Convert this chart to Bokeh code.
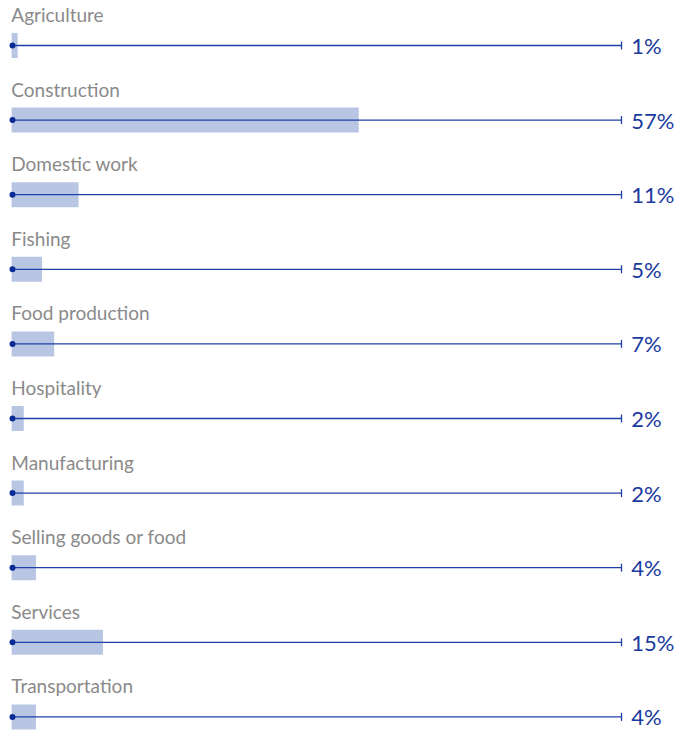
from bokeh.plotting import figure
from bokeh.models import Range1d, ColumnDataSource
from bokeh.core.properties import value
from bokeh.embed import file_html
from bokeh.resources import INLINE

categories = ["Agriculture", "Construction", "Domestic work", "Fishing", "Food production",
              "Hospitality", "Manufacturing", "Selling goods or food", "Services", "Transportation"]
values = [1, 57, 11, 5, 7, 2, 2, 4, 15, 4]
labels = [f"{v}%" for v in values]

W, H = 677, 736
PX = 6.09  # pixels per percent
x0 = 12    # pixel of 0%
ROW = 74.6
y0 = 45

rows = list(range(len(categories)))
src = ColumnDataSource(dict(
    cat=categories, val=values, lab=labels, row=rows,
    zero=[0] * len(rows), full=[100] * len(rows),
    right=[v - 0.15 for v in values],
    lab_y=[r - 31 / ROW for r in rows],
    tick_lo=[r - 4 / ROW for r in rows],
    tick_hi=[r + 4 / ROW for r in rows],
))

p = figure(width=W, height=H, output_backend="svg", toolbar_location=None,
           x_range=Range1d(-x0 / PX, (W - x0) / PX),
           y_range=Range1d((H - y0) / ROW, -y0 / ROW),
           min_border=0, outline_line_color=None)
p.axis.visible = False
p.grid.visible = False
p.background_fill_color = "white"

p.hbar(y="row", left=-0.15, right="right", height=25 / ROW, source=src,
       fill_color="#b8c6e4", line_color=None)
p.segment(x0="zero", y0="row", x1="full", y1="row", source=src,
          line_color="#1f40a8", line_width=1.3)
p.segment(x0="full", y0="tick_lo", x1="full", y1="tick_hi",
          source=src, line_color="#1f40a8", line_width=1.3)
p.scatter(x="zero", y="row", source=src, size=6, fill_color="#0a2a94", line_color=None)

p.text(x=-0.2, y="lab_y", text="cat", source=src, text_font=value("Lato"),
       text_font_size="19px", text_color="#8a8a8a", text_baseline="alphabetic",
       text_align="left")
p.text(x=101.6, y="row", text="lab", source=src, text_font=value("Lato"),
       text_font_size="22px", text_color="#1a3a9e", text_baseline="middle",
       text_align="left")

open("out.html", "w").write(file_html(p, INLINE))
